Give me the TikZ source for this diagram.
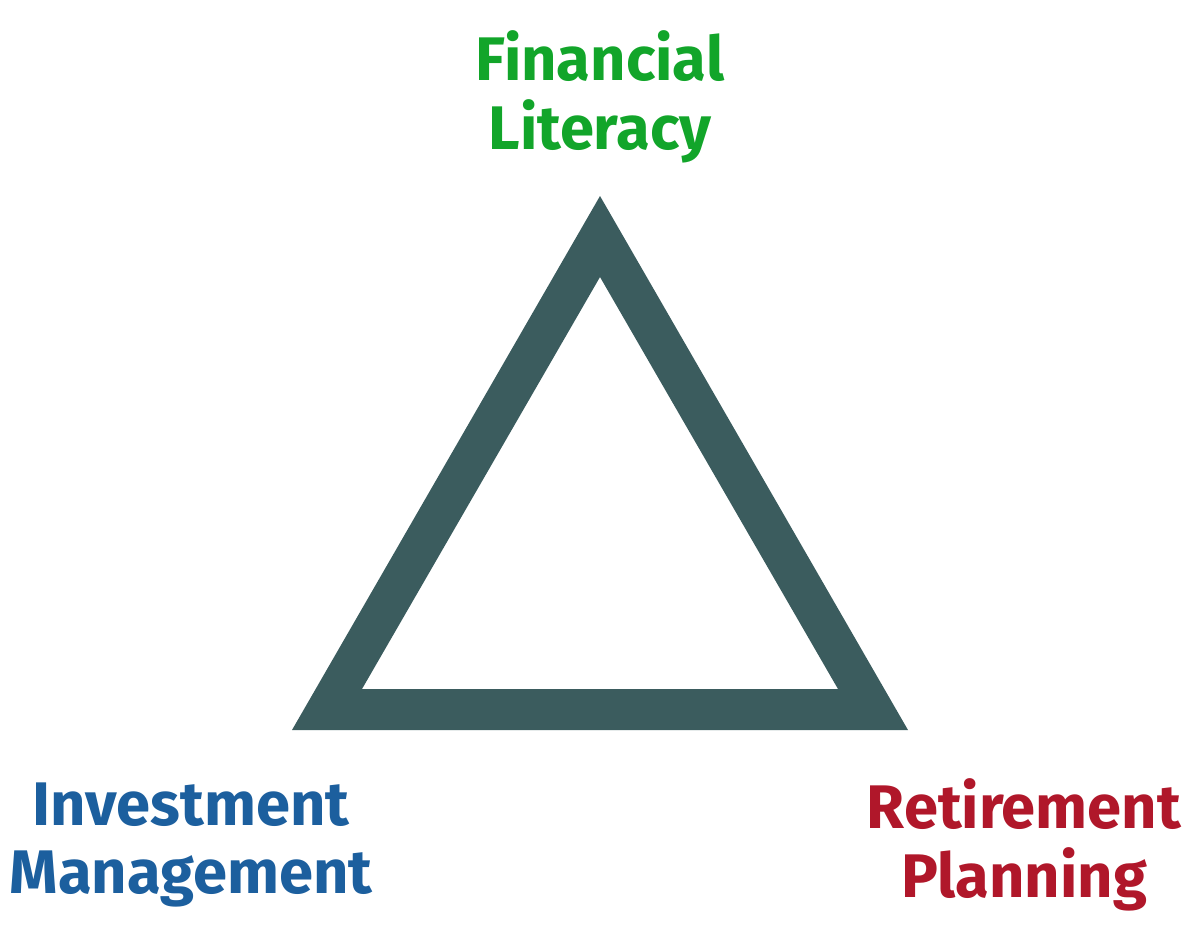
\documentclass[tikz,border=0pt]{standalone}
\usepackage{fontspec}
\setmainfont{Fira Sans}
\usepackage{tikz}
\usetikzlibrary{positioning}
\definecolor{leafgreen}{HTML}{12A52A}
\definecolor{steelblue}{HTML}{1C5F9E}
\definecolor{crimson}{HTML}{B0172A}
\definecolor{slate}{HTML}{3B5C5E}
\tikzset{
  pillar/.style={
    font=\fontsize{17.5}{19.6}\selectfont\bfseries,
    text=#1, align=center, inner sep=0pt
  },
  pillar/.default=steelblue,
}
\begin{document}
\begin{tikzpicture}[x=0.01cm, y=-0.01cm]
\useasboundingbox (0,0) rectangle (1200,935);

% triangle frame
\fill[slate, even odd rule]
  (600,196) -- (292,730) -- (908,730) -- cycle
  (600,277) -- (362,689) -- (838,689) -- cycle;

% corner labels
\node[pillar=leafgreen] (literacy) at (600,97) {Financial\\Literacy};
\node[pillar=steelblue] (invest) at (191,845) {Investment\\Management};
\node[pillar=crimson] (retire) at (1024,845) {Retirement\\Planning};

\end{tikzpicture}
\end{document}
